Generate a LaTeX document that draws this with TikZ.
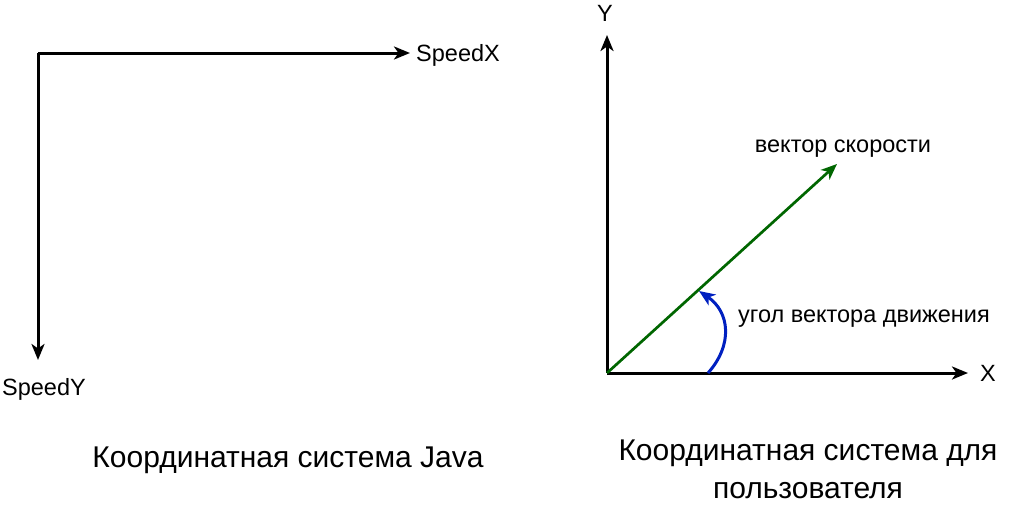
\documentclass[tikz,border=0pt]{standalone}
\usepackage{fontspec}
\setmainfont{Liberation Sans}
\usepackage{tikz}
\usetikzlibrary{arrows.meta}
\definecolor{vecgreen}{HTML}{006600}
\definecolor{angblue}{HTML}{0020C0}
\tikzset{
  axis/.style={line width=3pt, -{Stealth[length=16pt,width=13pt,inset=4.5pt]}},
  vec/.style={draw=vecgreen, line width=2.7pt, -{Stealth[length=16pt,width=13pt,inset=4.5pt]}},
  ang/.style={draw=angblue, line width=3pt, -{Stealth[length=16pt,width=13pt,inset=4.5pt]}},
  lbl/.style={inner sep=0pt, font=\fontsize{23.5}{28}\selectfont},
  captext/.style={inner sep=0pt, align=center, font=\fontsize{30}{38}\selectfont}
}
\begin{document}
\begin{tikzpicture}[x=1pt,y=-1pt]
\useasboundingbox (0,0) rectangle (1019,514);
% Java coordinates
\coordinate (J0) at (38,53);
\coordinate (JX) at (410,53);
\coordinate (JY) at (38,360);
\draw[axis] (J0)--(JX);
\draw[axis] (J0)--(JY);
\node[lbl, anchor=base west] (sx) at (416,61) {SpeedX};
\node[lbl, anchor=base] (sy) at (44,395) {SpeedY};
\node[captext, anchor=base] (jcap) at (288,467) {Координатная система Java};
% user coordinates
\coordinate (O) at (607,373);
\coordinate (OY) at (607,35);
\coordinate (OX) at (968,373);
\draw[axis] (O)--(OY);
\draw[axis] (O)--(OX);
\node[lbl, anchor=base] (ylab) at (605,21) {Y};
\node[lbl, anchor=base west] (xlab) at (980,381) {X};
% speed vector and angle
\coordinate (V) at (837,164);
\draw[vec] (O)--(V);
\node[lbl, anchor=base] (vlab) at (843,152) {вектор скорости};
\coordinate (A1) at (708,373);
\coordinate (A2) at (699,291);
\draw[ang] (A1) .. controls (733,345) and (730,312) .. (A2);
\node[lbl, anchor=base west] (alab) at (738,322) {угол вектора движения};
\node[captext] (ucap) at (808,469) {Координатная система для\\пользователя};
\end{tikzpicture}
\end{document}
